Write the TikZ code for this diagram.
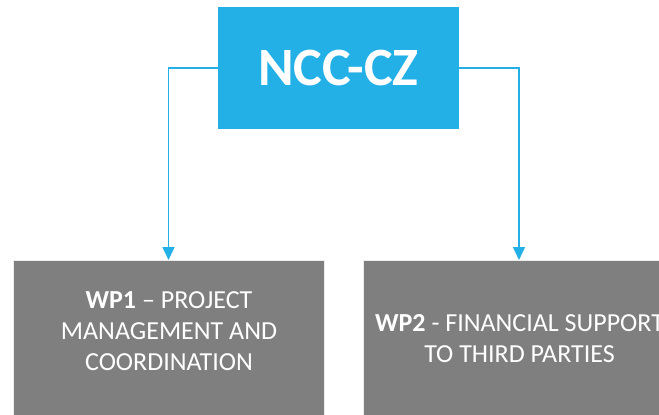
\documentclass[tikz,border=0pt]{standalone}
\usepackage{fontspec}
\setmainfont{Carlito}
\usetikzlibrary{arrows.meta}

\definecolor{nccblue}{HTML}{23B0E6}
\definecolor{wpgray}{HTML}{7F7F7F}

\tikzset{
	headbox/.style={rectangle, fill=nccblue, text=white, minimum width=241pt, minimum height=122pt, inner sep=0pt},
	wpbox/.style={rectangle, fill=wpgray, draw=white!85!gray, line width=0.5pt, minimum width=311pt, minimum height=200pt, inner sep=0pt, anchor=north},
	wptext/.style={text=white, align=center, inner sep=0pt, font=\fontsize{26}{31}\selectfont},
	link/.style={draw=nccblue, line width=1.5pt, -{Triangle[width=12pt,length=13pt]}}
}

\begin{document}
\begin{tikzpicture}[x=1pt, y=-1pt]
	\useasboundingbox (0,0) rectangle (659,415);
	\node[headbox, font=\fontsize{54}{60}\selectfont\bfseries] (ncc) at (338.5,68)
	{NCC-CZ};
	\node[wpbox] (wp1) at (168.5,260) {};
	\node[wpbox] (wp2) at (519,260) {};
	\node[wptext] (wp1t) at (169,331)
	{\textbf{WP1} – PROJECT\\MANAGEMENT AND\\COORDINATION};
	\node[wptext] (wp2t) at (519.5,339)
	{\textbf{WP2} - FINANCIAL SUPPORT\\TO THIRD PARTIES};

	\draw[link] (ncc.west) -| (wp1.north);
	\draw[link] (ncc.east) -| (wp2.north);
\end{tikzpicture}
\end{document}
